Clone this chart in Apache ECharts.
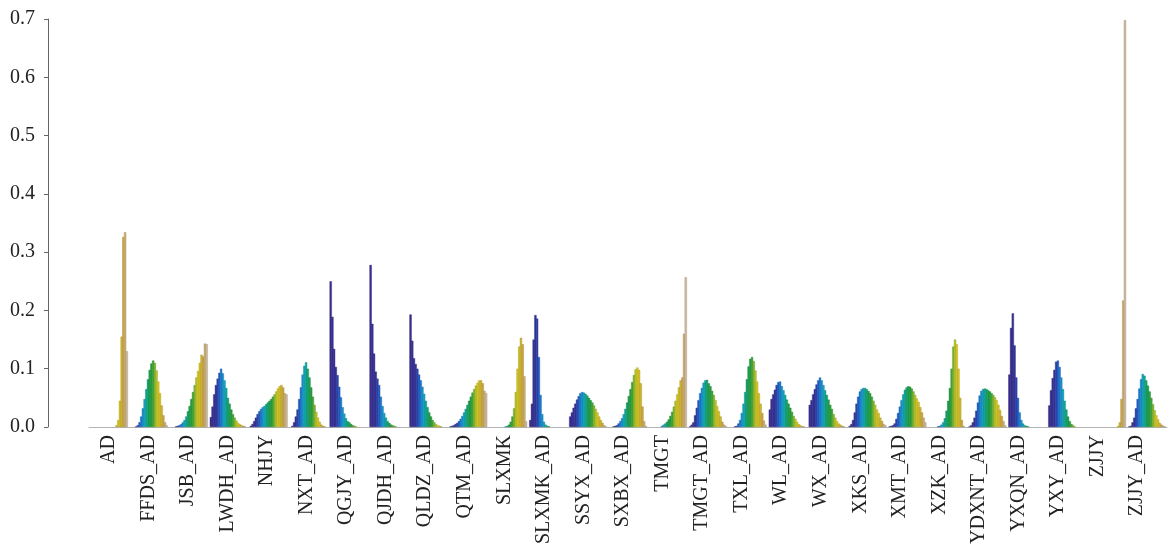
<!DOCTYPE html>
<html>
<head>
<meta charset="utf-8">
<title>Distributions per category</title>
<script src="https://cdn.jsdelivr.net/npm/echarts@6/dist/echarts.min.js"></script>
<style>
  html, body { margin: 0; padding: 0; background: #fff; }
  #chart { width: 1170px; height: 547px; }
</style>
</head>
<body>
<div id="chart"></div>
<script>
// categories on the x axis
const categories = ['AD', 'FFDS_AD', 'JSB_AD', 'LWDH_AD', 'NHJY', 'NXT_AD', 'QGJY_AD', 'QJDH_AD',
  'QLDZ_AD', 'QTM_AD', 'SLXMK', 'SLXMK_AD', 'SSYX_AD', 'SXBX_AD', 'TMGT', 'TMGT_AD', 'TXL_AD',
  'WL_AD', 'WX_AD', 'XKS_AD', 'XMT_AD', 'XZK_AD', 'YDXNT_AD', 'YXQN_AD', 'YXY_AD', 'ZJJY', 'ZJJY_AD'];

const yTicks = [0, 0.1, 0.2, 0.3, 0.4, 0.5, 0.6, 0.7];

// one value per bin (22 bins) for every category
const AD       = [0,0,0,0,0,0,0,0,0,0,0,0,0,0,0,0.003,0.012,0.045,0.155,0.326,0.334,0.13];
const FFDS_AD  = [0,0,0,0.001,0.003,0.008,0.018,0.032,0.048,0.065,0.082,0.098,0.109,0.114,0.11,0.097,0.078,0.058,0.037,0.02,0.008,0.003];
const JSB_AD   = [0,0,0,0.001,0.002,0.003,0.005,0.008,0.012,0.018,0.027,0.036,0.048,0.06,0.072,0.085,0.096,0.11,0.124,0.121,0.143,0.142];
const LWDH_AD  = [0.017,0.035,0.056,0.072,0.083,0.093,0.1,0.092,0.08,0.067,0.05,0.04,0.03,0.022,0.016,0.011,0.007,0.005,0.003,0.002,0.001,0];
const NHJY     = [0.002,0.005,0.01,0.016,0.022,0.027,0.031,0.034,0.036,0.039,0.042,0.045,0.048,0.052,0.056,0.061,0.066,0.07,0.072,0.068,0.058,0.056];
const NXT_AD   = [0,0.002,0.008,0.018,0.03,0.048,0.068,0.09,0.105,0.111,0.1,0.085,0.068,0.052,0.038,0.026,0.016,0.009,0.004,0.002,0.001,0];
const QGJY_AD  = [0.25,0.189,0.134,0.103,0.089,0.069,0.051,0.034,0.023,0.015,0.01,0.008,0.005,0.003,0.002,0.001,0,0,0,0,0,0];
const QJDH_AD  = [0.278,0.177,0.126,0.095,0.083,0.072,0.052,0.036,0.024,0.016,0.01,0.007,0.004,0.003,0.002,0.001,0,0,0,0,0,0];
const QLDZ_AD  = [0.193,0.148,0.118,0.108,0.1,0.09,0.08,0.069,0.057,0.045,0.034,0.025,0.018,0.012,0.008,0.005,0.003,0.002,0.001,0,0,0];
const QTM_AD   = [0.001,0.002,0.003,0.005,0.007,0.01,0.014,0.019,0.025,0.031,0.038,0.045,0.052,0.059,0.065,0.071,0.076,0.08,0.08,0.075,0.062,0.058];
const SLXMK    = [0,0,0,0,0,0,0,0,0,0.001,0.002,0.004,0.009,0.018,0.032,0.06,0.1,0.138,0.153,0.142,0.087,0.01];
const SLXMK_AD = [0.012,0.04,0.15,0.192,0.186,0.12,0.055,0.022,0.009,0.004,0.002,0.001,0,0,0,0,0,0,0,0,0,0];
const SSYX_AD  = [0.018,0.025,0.033,0.04,0.047,0.053,0.058,0.06,0.059,0.057,0.054,0.05,0.046,0.042,0.037,0.031,0.025,0.018,0.012,0.007,0.003,0.001];
const SXBX_AD  = [0,0,0.001,0.002,0.003,0.006,0.01,0.015,0.022,0.031,0.042,0.053,0.065,0.077,0.089,0.099,0.102,0.098,0.075,0.035,0.01,0.002];
const TMGT     = [0,0,0,0,0,0,0,0.002,0.004,0.006,0.009,0.013,0.019,0.026,0.035,0.045,0.056,0.068,0.08,0.085,0.16,0.257];
const TMGT_AD  = [0.001,0.004,0.008,0.02,0.033,0.046,0.058,0.067,0.076,0.08,0.081,0.075,0.07,0.062,0.055,0.046,0.036,0.027,0.018,0.009,0.004,0.002];
const TXL_AD   = [0,0,0,0.001,0.002,0.006,0.012,0.024,0.04,0.06,0.082,0.104,0.117,0.12,0.113,0.097,0.078,0.058,0.04,0.024,0.011,0.004];
const WL_AD    = [0.03,0.048,0.056,0.064,0.072,0.077,0.078,0.07,0.063,0.055,0.047,0.04,0.033,0.026,0.019,0.014,0.009,0.005,0.003,0.001,0.001,0];
const WX_AD    = [0.038,0.046,0.056,0.065,0.073,0.08,0.085,0.08,0.072,0.063,0.055,0.047,0.038,0.031,0.022,0.016,0.01,0.006,0.004,0.002,0.001,0];
const XKS_AD   = [0.002,0.005,0.012,0.025,0.04,0.052,0.061,0.065,0.067,0.067,0.065,0.062,0.058,0.052,0.045,0.038,0.03,0.024,0.016,0.01,0.005,0.003];
const XMT_AD   = [0.001,0.002,0.003,0.006,0.014,0.024,0.035,0.046,0.056,0.064,0.068,0.07,0.069,0.066,0.061,0.055,0.049,0.043,0.034,0.025,0.016,0.008];
const XZK_AD   = [0,0,0,0,0,0.001,0.002,0.004,0.008,0.015,0.028,0.045,0.067,0.1,0.138,0.15,0.142,0.1,0.05,0.012,0.002,0];
const YDXNT_AD = [0.001,0.003,0.008,0.016,0.028,0.042,0.054,0.062,0.065,0.066,0.065,0.063,0.061,0.058,0.055,0.051,0.046,0.038,0.029,0.019,0.01,0.003];
const YXQN_AD  = [0.09,0.17,0.195,0.14,0.085,0.05,0.025,0.012,0.006,0.003,0.002,0.001,0,0,0,0,0,0,0,0,0,0];
const YXY_AD   = [0.037,0.063,0.084,0.098,0.112,0.114,0.103,0.085,0.065,0.045,0.03,0.018,0.01,0.005,0.003,0.001,0,0,0,0,0,0];
const ZJJY     = [0,0,0,0,0,0,0,0,0,0,0,0,0,0,0,0,0,0.002,0.008,0.048,0.217,0.698];
const ZJJY_AD  = [0.001,0.002,0.008,0.016,0.032,0.048,0.066,0.082,0.091,0.088,0.08,0.071,0.061,0.05,0.039,0.029,0.02,0.013,0.007,0.004,0.002,0.001];

const groups = [AD, FFDS_AD, JSB_AD, LWDH_AD, NHJY, NXT_AD, QGJY_AD, QJDH_AD, QLDZ_AD, QTM_AD,
  SLXMK, SLXMK_AD, SSYX_AD, SXBX_AD, TMGT, TMGT_AD, TXL_AD, WL_AD, WX_AD, XKS_AD, XMT_AD,
  XZK_AD, YDXNT_AD, YXQN_AD, YXY_AD, ZJJY, ZJJY_AD];
const binCount = AD.length;

// colour ramp used for the bins: indigo -> blue -> green -> yellow -> tan
const rampStops = [
  [0.00, [58, 46, 146]],
  [0.16, [54, 52, 154]],
  [0.23, [35, 86, 196]],
  [0.30, [26, 130, 212]],
  [0.37, [22, 162, 204]],
  [0.43, [14, 170, 156]],
  [0.49, [26, 163, 96]],
  [0.56, [31, 159, 64]],
  [0.63, [67, 170, 54]],
  [0.69, [160, 191, 44]],
  [0.75, [214, 202, 34]],
  [0.83, [212, 190, 38]],
  [0.91, [204, 165, 70]],
  [1.00, [205, 185, 156]]
];

function rampRgb(t) {
  for (let i = 1; i < rampStops.length; i++) {
    const [t1, c1] = rampStops[i];
    const [t0, c0] = rampStops[i - 1];
    if (t <= t1) {
      const f = (t - t0) / (t1 - t0);
      return c0.map((v, k) => Math.round(v + (c1[k] - v) * f));
    }
  }
  return rampStops[rampStops.length - 1][1];
}

const toCss = c => 'rgb(' + c.join(',') + ')';

const serif = 'Liberation Serif, Times New Roman, serif';

const series = [];
for (let j = 0; j < binCount; j++) {
  const c = rampRgb(j / (binCount - 1));
  series.push({
    name: 'bin ' + (j + 1),
    type: 'bar',
    xAxisIndex: 0,
    yAxisIndex: 0,
    // small overlap so neighbouring bins touch without white seams
    barGap: '-25%',
    barCategoryGap: '5%',
    silent: true,
    itemStyle: {
      color: toCss(c),
      borderColor: toCss(c.map(v => Math.round(v * 0.8))),
      borderWidth: 0.4
    },
    // empty bins stay undrawn so only the grey baseline shows there
    data: groups.map(g => (g[j] === 0 ? '-' : g[j]))
  });
}

const chart = echarts.init(document.getElementById('chart'));
chart.setOption({
  animation: false,
  backgroundColor: '#fff',
  grid: [
    { left: 89, right: 3, top: 19, bottom: 120 },
    // labels sit on their own axis, spaced a bit tighter than the bar groups
    { left: 89, width: 1068, top: 19, bottom: 120 }
  ],
  xAxis: [
    {
      type: 'category',
      gridIndex: 0,
      data: categories,
      axisLine: { show: true, lineStyle: { color: '#b4b4b4', width: 1 } },
      axisTick: { show: false },
      axisLabel: { show: false }
    },
    {
      type: 'category',
      gridIndex: 1,
      data: categories,
      axisLine: { show: false },
      axisTick: { show: false },
      axisLabel: {
        interval: 0,
        rotate: 90,
        margin: 9,
        fontFamily: serif,
        fontSize: 20,
        color: '#222'
      }
    }
  ],
  yAxis: [
    {
      type: 'value',
      gridIndex: 0,
      min: yTicks[0],
      max: yTicks[yTicks.length - 1],
      interval: 0.1,
      offset: 41,
      axisLine: { show: true, lineStyle: { color: '#666', width: 1 } },
      axisTick: { show: true, length: 4, lineStyle: { color: '#666' } },
      splitLine: { show: false },
      axisLabel: {
        margin: 13,
        fontFamily: serif,
        fontSize: 20,
        color: '#222',
        formatter: v => v.toFixed(1)
      }
    },
    { type: 'value', gridIndex: 1, show: false, min: 0, max: 1 }
  ],
  series: series
});

window.addEventListener('resize', () => chart.resize());
</script>
</body>
</html>
